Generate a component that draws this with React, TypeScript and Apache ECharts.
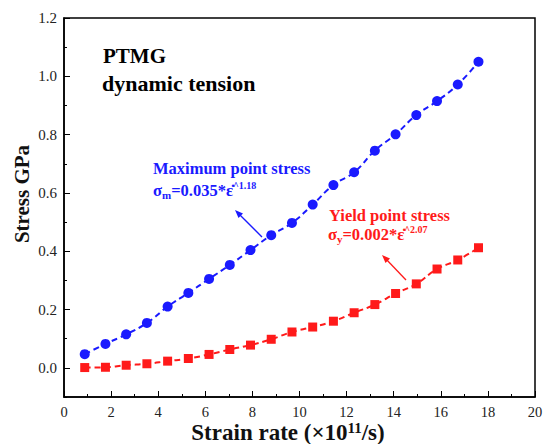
import React, { useEffect, useRef } from "react";
import * as echarts from "echarts";

const strainRate = [0.88, 1.76, 2.64, 3.52, 4.4, 5.28, 6.16, 7.04, 7.92, 8.8, 9.68, 10.56, 11.44, 12.32, 13.2, 14.08, 14.96, 15.84, 16.72, 17.6];
const maxStress = [0.047, 0.082, 0.115, 0.154, 0.21, 0.257, 0.305, 0.353, 0.404, 0.455, 0.497, 0.56, 0.627, 0.671, 0.745, 0.801, 0.867, 0.915, 0.972, 1.05];
const yieldStress = [0.001, 0.002, 0.009, 0.014, 0.023, 0.032, 0.046, 0.063, 0.078, 0.098, 0.123, 0.14, 0.16, 0.189, 0.217, 0.255, 0.288, 0.339, 0.37, 0.412];
const yMajorTicks = [0, 0.2, 0.4, 0.6, 0.8, 1.0, 1.2];

const SERIF = "'Liberation Serif', 'Times New Roman', serif";
const BLUE = "#1a1aff";
const RED = "#ff1a1a";

export default function App() {
  const ref = useRef<HTMLDivElement>(null);
  useEffect(() => {
    const chart = echarts.init(ref.current!, null, { renderer: "svg" });
    const pair = (ys: number[]) => strainRate.map((x, i) => [x, ys[i]]);
    const formulaRich = (color: string) => ({
      m: { fontFamily: SERIF, fontWeight: "bold", fontSize: 16.5, fill: color, lineHeight: 20, verticalAlign: "middle" },
      sub: { fontFamily: SERIF, fontWeight: "bold", fontSize: 11, fill: color, lineHeight: 20, verticalAlign: "bottom", padding: [7, 0, 0, 0] },
      sup: { fontFamily: SERIF, fontWeight: "bold", fontSize: 10, fill: color, lineHeight: 20, verticalAlign: "top", padding: [0, 0, 7, 0] },
    });
    chart.setOption({
      animation: false,
      grid: { left: 64, right: 9, top: 18, bottom: 47, show: true, borderColor: "#000", borderWidth: 1.5, outerBoundsMode: "none", containLabel: false },
      xAxis: {
        type: "value", min: 0, max: 20, interval: 2,
        axisLine: { show: true, onZero: false, lineStyle: { color: "#000", width: 1.5 } },
        axisTick: { show: true, inside: true, length: 6, lineStyle: { color: "#000" } },
        minorTick: { show: true, splitNumber: 2, length: 3, lineStyle: { color: "#000" } },
        splitLine: { show: false },
        axisLabel: { color: "#222", fontFamily: SERIF, fontSize: 14.5, margin: 7, lineHeight: 15 },
      },
      yAxis: [
        {
          type: "value", min: -0.1, max: 1.2, interval: 0.1,
          axisLine: { show: true, onZero: false, lineStyle: { color: "#000", width: 1.5 } },
          axisTick: { show: true, inside: true, length: 3, lineStyle: { color: "#000" } },
          splitLine: { show: false },
          axisLabel: {
            color: "#222", fontFamily: SERIF, fontSize: 15, margin: 7,
            formatter: (v: number) => {
              const k = Math.round(v * 10);
              return k >= 0 && k % 2 === 0 ? (k / 10).toFixed(1) : "";
            },
          },
        },
        {
          type: "value", min: -0.1, max: 1.2, interval: 0.1, position: "left", offset: 0,
          axisLine: { show: false },
          axisTick: { show: true, inside: true, length: 6, customValues: yMajorTicks, lineStyle: { color: "#000" } },
          axisLabel: { show: false },
          splitLine: { show: false },
        },
      ],
      series: [
        {
          type: "line", data: pair(maxStress), smooth: true,
          symbol: "circle", symbolSize: 10,
          itemStyle: { color: BLUE },
          lineStyle: { color: BLUE, width: 2, type: [6, 4] },
        },
        {
          type: "line", data: pair(yieldStress), smooth: true,
          symbol: "rect", symbolSize: 9,
          itemStyle: { color: RED },
          lineStyle: { color: RED, width: 2, type: [6, 4] },
        },
      ],
      graphic: [
        {
          type: "text", x: 22, y: 194, rotation: Math.PI / 2,
          style: { text: "Stress GPa", font: `bold 21px ${SERIF}`, fill: "#111", align: "center", verticalAlign: "middle" },
        },
        {
          type: "text", x: 288, y: 432,
          style: {
            text: "{b|Strain rate (×10}{s|11}{b|/s)}", align: "center", verticalAlign: "middle",
            rich: {
              b: { fontFamily: SERIF, fontWeight: "bold", fontSize: 23, fill: "#111", lineHeight: 23, verticalAlign: "middle" },
              s: { fontFamily: SERIF, fontWeight: "bold", fontSize: 15, fill: "#111", lineHeight: 23, verticalAlign: "top", padding: [0, 0, 6, 0] },
            },
          },
        },
        { type: "text", left: 103, top: 45, style: { text: "PTMG", font: `bold 21px ${SERIF}`, fill: "#000" } },
        { type: "text", left: 102, top: 72, style: { text: "dynamic tension", font: `bold 22px ${SERIF}`, fill: "#000" } },
        { type: "text", left: 153, top: 160, style: { text: "Maximum point stress", font: `bold 16.5px ${SERIF}`, fill: BLUE } },
        {
          type: "text", left: 153, top: 180,
          style: { text: "{m|σ}{sub|m}{m|=0.035*ε̇}{sup|^1.18}", rich: formulaRich(BLUE) },
        },
        { type: "text", left: 329, top: 207, style: { text: "Yield point stress", font: `bold 16.5px ${SERIF}`, fill: RED } },
        {
          type: "text", left: 328, top: 224,
          style: { text: "{m|σ}{sub|y}{m|=0.002*ε̇}{sup|^2.07}", rich: formulaRich(RED) },
        },
        { type: "line", shape: { x1: 262, y1: 237, x2: 238, y2: 213 }, style: { stroke: BLUE, lineWidth: 1.3 } },
        { type: "polygon", shape: { points: [[235, 210], [243, 213.5], [238.5, 218]] }, style: { fill: BLUE } },
        { type: "line", shape: { x1: 406, y1: 280, x2: 385, y2: 258 }, style: { stroke: RED, lineWidth: 1.3 } },
        { type: "polygon", shape: { points: [[382, 255], [390, 258.5], [385.5, 263]] }, style: { fill: RED } },
      ],
    });
    return () => chart.dispose();
  }, []);
  return <div ref={ref} style={{ width: 544, height: 444, position: "absolute", left: 0, top: 0 }} />;
}
